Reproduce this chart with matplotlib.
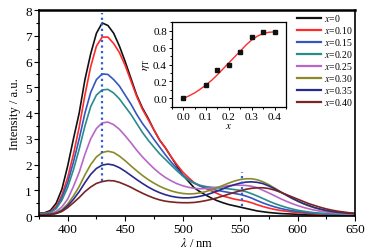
import numpy as np
import matplotlib
matplotlib.use("Agg")
import matplotlib.pyplot as plt
from matplotlib.ticker import MultipleLocator

plt.rcParams['font.family'] = ['Liberation Serif', 'DejaVu Serif']
plt.rcParams['mathtext.fontset'] = 'stix'

wavelength = list(range(375, 651, 5))

labels = ['$x$=0', '$x$=0.10', '$x$=0.15', '$x$=0.20', '$x$=0.25', '$x$=0.30', '$x$=0.35', '$x$=0.40']
colors = ['#111111', '#ff2a2a', '#3555c0', '#2a8c8a', '#b866c8', '#8a8a2a', '#2a2a8c', '#7a2424']

s_000 = [0.12, 0.13, 0.22, 0.5, 1.05, 1.95, 3.0, 4.0, 5.3, 6.3, 7.1, 7.5, 7.4, 7.1, 6.6, 6.0,
         5.35, 4.7, 4.2, 3.8, 3.35, 2.95, 2.65, 2.3, 1.95, 1.6, 1.35, 1.1, 0.95, 0.82, 0.7, 0.6,
         0.52, 0.45, 0.4, 0.35, 0.3, 0.25, 0.2, 0.17, 0.14, 0.12, 0.1, 0.09, 0.08, 0.07, 0.06,
         0.05, 0.05, 0.04, 0.04, 0.04, 0.03, 0.03, 0.03, 0.03]
s_010 = [0.1, 0.11, 0.17, 0.38, 0.82, 1.5, 2.4, 3.45, 4.7, 5.8, 6.6, 6.95, 6.95, 6.7, 6.35, 5.85,
         5.25, 4.65, 4.15, 3.75, 3.35, 2.95, 2.65, 2.3, 2.0, 1.72, 1.5, 1.3, 1.18, 1.08, 0.98, 0.88,
         0.78, 0.72, 0.66, 0.62, 0.58, 0.52, 0.44, 0.37, 0.31, 0.26, 0.22, 0.19, 0.16, 0.14, 0.12,
         0.1, 0.09, 0.08, 0.07, 0.06, 0.06, 0.05, 0.05, 0.05]
s_015 = [0.1, 0.11, 0.15, 0.32, 0.72, 1.3, 2.1, 3.0, 4.0, 4.8, 5.3, 5.52, 5.5, 5.3, 5.05, 4.7,
         4.35, 3.95, 3.6, 3.3, 2.98, 2.68, 2.38, 2.1, 1.85, 1.6, 1.42, 1.28, 1.17, 1.1, 1.05, 1.0,
         0.96, 0.92, 0.88, 0.84, 0.78, 0.7, 0.6, 0.51, 0.43, 0.36, 0.3, 0.25, 0.21, 0.18, 0.15,
         0.13, 0.11, 0.1, 0.09, 0.08, 0.07, 0.06, 0.06, 0.05]
s_020 = [0.1, 0.1, 0.14, 0.29, 0.62, 1.12, 1.8, 2.6, 3.5, 4.25, 4.7, 4.9, 4.92, 4.78, 4.55, 4.25,
         3.95, 3.6, 3.25, 2.95, 2.68, 2.42, 2.2, 1.98, 1.76, 1.56, 1.4, 1.28, 1.2, 1.15, 1.12, 1.1,
         1.08, 1.06, 1.03, 1.0, 0.95, 0.87, 0.78, 0.68, 0.58, 0.49, 0.41, 0.34, 0.28, 0.23, 0.19,
         0.16, 0.13, 0.11, 0.1, 0.09, 0.08, 0.07, 0.06, 0.06]
s_025 = [0.08, 0.08, 0.1, 0.18, 0.36, 0.66, 1.15, 1.7, 2.4, 3.0, 3.4, 3.62, 3.65, 3.55, 3.37, 3.12,
         2.85, 2.56, 2.3, 2.07, 1.85, 1.66, 1.5, 1.37, 1.26, 1.18, 1.12, 1.08, 1.06, 1.07, 1.09, 1.12,
         1.15, 1.18, 1.2, 1.2, 1.19, 1.16, 1.1, 1.0, 0.9, 0.79, 0.68, 0.58, 0.49, 0.41, 0.34,
         0.28, 0.23, 0.19, 0.16, 0.13, 0.11, 0.09, 0.08, 0.07]
s_030 = [0.07, 0.07, 0.08, 0.13, 0.25, 0.47, 0.78, 1.15, 1.6, 2.0, 2.3, 2.47, 2.52, 2.47, 2.33, 2.15,
         1.95, 1.76, 1.58, 1.42, 1.28, 1.16, 1.06, 0.98, 0.92, 0.88, 0.86, 0.87, 0.9, 0.95, 1.02, 1.1,
         1.19, 1.28, 1.36, 1.42, 1.45, 1.45, 1.41, 1.33, 1.22, 1.09, 0.95, 0.82, 0.69, 0.58, 0.48,
         0.39, 0.32, 0.26, 0.21, 0.17, 0.14, 0.12, 0.1, 0.09]
s_035 = [0.06, 0.06, 0.07, 0.11, 0.21, 0.4, 0.65, 0.95, 1.3, 1.62, 1.85, 1.98, 2.02, 1.98, 1.88, 1.74,
         1.58, 1.42, 1.27, 1.13, 1.01, 0.91, 0.83, 0.77, 0.73, 0.71, 0.71, 0.73, 0.77, 0.82, 0.89, 0.97,
         1.06, 1.15, 1.22, 1.28, 1.32, 1.33, 1.31, 1.26, 1.17, 1.06, 0.94, 0.82, 0.7, 0.59, 0.49,
         0.41, 0.33, 0.27, 0.22, 0.18, 0.15, 0.13, 0.11, 0.1]
s_040 = [0.05, 0.05, 0.06, 0.1, 0.18, 0.33, 0.52, 0.72, 0.95, 1.13, 1.27, 1.34, 1.38, 1.37, 1.31, 1.22,
         1.12, 1.0, 0.89, 0.79, 0.7, 0.63, 0.58, 0.55, 0.53, 0.52, 0.52, 0.53, 0.56, 0.6, 0.65, 0.71,
         0.78, 0.85, 0.92, 0.98, 1.04, 1.08, 1.1, 1.1, 1.07, 1.01, 0.93, 0.84, 0.75, 0.66, 0.57,
         0.48, 0.41, 0.34, 0.28, 0.23, 0.19, 0.16, 0.13, 0.11]
series = [s_000, s_010, s_015, s_020, s_025, s_030, s_035, s_040]

# marker lines (wavelength, y-start, y-end)
mark1 = (430, 1.35, 7.9)
mark2 = (552, 0.4, 1.7)

# inset data
inset_x = [0.0, 0.10, 0.15, 0.20, 0.25, 0.30, 0.35, 0.40]
inset_eta = [0.0, 0.16, 0.33, 0.40, 0.55, 0.73, 0.785, 0.785]
fit_x = [0.0, 0.025, 0.05, 0.075, 0.1, 0.125, 0.15, 0.175, 0.2, 0.225, 0.25, 0.275, 0.3, 0.325, 0.35, 0.375, 0.4]
fit_y = [0.0, 0.03, 0.065, 0.11, 0.16, 0.215, 0.28, 0.35, 0.42, 0.49, 0.56, 0.63, 0.69, 0.735, 0.765, 0.78, 0.785]

fig = plt.figure(figsize=(3.71, 2.51), dpi=100)
ax = fig.add_axes([0.105, 0.135, 0.852, 0.821])

for s, c, lab in zip(series, colors, labels):
    ax.plot(wavelength, s, color=c, lw=1.2, label=lab)

ax.plot([mark1[0], mark1[0]], [mark1[1], mark1[2]], ls=(0, (1, 1.5)), color='#2f5fd0', lw=1.6)
ax.plot([mark2[0], mark2[0]], [mark2[1], mark2[2]], ls=(0, (1, 1.5)), color='#2f5fd0', lw=1.6)

ax.set_xlim(375, 650)
ax.set_ylim(0, 8)
ax.xaxis.set_major_locator(MultipleLocator(50))
ax.xaxis.set_minor_locator(MultipleLocator(25))
ax.yaxis.set_major_locator(MultipleLocator(1))
ax.yaxis.set_minor_locator(MultipleLocator(0.5))
ax.tick_params(which='major', direction='out', length=3.5, width=0.8, labelsize=9.5, pad=1.5)
ax.tick_params(which='minor', direction='out', length=2, width=0.8)
for sp in ax.spines.values():
    sp.set_linewidth(1.2)
ax.spines['top'].set_linewidth(1.8)
ax.set_xlabel('$\\lambda$ / nm', fontsize=9, labelpad=1)
ax.set_ylabel('Intensity / a.u.', fontsize=9, labelpad=3)

leg = ax.legend(loc='upper right', bbox_to_anchor=(1.0, 1.0), frameon=False, fontsize=7,
                handlelength=2.5, handletextpad=0.25, labelspacing=0.1, borderaxespad=0.05,
                borderpad=0.2)
for l in leg.get_lines():
    l.set_linewidth(1.6)

ins = fig.add_axes([0.463, 0.570, 0.308, 0.338])
ins.plot(fit_x, fit_y, color='#ff2a2a', lw=1.0)
ins.plot(inset_x, inset_eta, ls='none', marker='s', ms=3, color='#111111')
ins.set_xlim(-0.05, 0.45)
ins.set_ylim(-0.1, 0.9)
ins.xaxis.set_minor_locator(MultipleLocator(0.05))
ins.yaxis.set_minor_locator(MultipleLocator(0.1))
ins.set_xticks([0.0, 0.1, 0.2, 0.3, 0.4])
ins.set_xticklabels(['0.0', '0.1', '0.2', '0.3', '0.4'])
ins.set_yticks([0.0, 0.2, 0.4, 0.6, 0.8])
ins.set_yticklabels(['0.0', '0.2', '0.4', '0.6', '0.8'])
ins.tick_params(which='major', direction='out', length=2.5, width=0.7, labelsize=8, pad=1)
ins.tick_params(which='minor', direction='out', length=1.5, width=0.7)
for sp in ins.spines.values():
    sp.set_linewidth(0.9)
ins.set_xlabel('$x$', fontsize=8, labelpad=0)
ins.set_ylabel('$\\eta_{\\mathrm{T}}$', fontsize=8, labelpad=1)

fig.savefig('out.png', dpi=100)
